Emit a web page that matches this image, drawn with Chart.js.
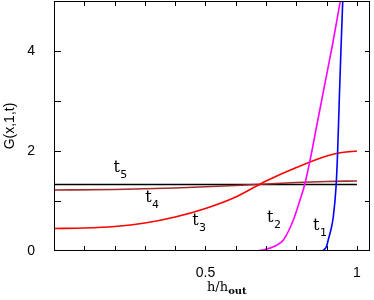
<!DOCTYPE html>
<html>
<head>
<meta charset="utf-8">
<script src="https://cdn.jsdelivr.net/npm/chart.js@4.4.0/dist/chart.umd.min.js"></script>
<style>
  html, body { margin: 0; padding: 0; background: #fff; }
  #wrap { width: 374px; height: 300px; }
</style>
</head>
<body>
<div id="wrap"><canvas id="chartG"></canvas></div>
<script>
// h/h_out samples and G(x,1,t) values
const hT1 = [0, 0.85, 0.88, 0.89, 0.90, 0.905, 0.915, 0.922, 0.931, 0.936, 0.942, 0.947, 0.953, 0.96];
const gT1 = [0, 0, 0, 0.02, 0.1, 0.22, 0.45, 0.69, 1.29, 1.96, 3.1, 4.0, 5.0, 6.2];

const hT2 = [0, 0.5, 0.65, 0.69, 0.73, 0.757, 0.79, 0.812, 0.828, 0.845, 0.867, 0.891, 0.92, 0.945, 0.96];
const gT2 = [0, 0, 0, 0.02, 0.1, 0.22, 0.62, 1.02, 1.34, 1.81, 2.5, 3.25, 4.15, 5.0, 5.5];

const hT3 = [0, 0.1, 0.2, 0.3, 0.4, 0.5, 0.6, 0.7, 0.8, 0.9, 0.95, 1.0];
const gT3 = [0.45, 0.46, 0.49, 0.56, 0.68, 0.85, 1.08, 1.40, 1.67, 1.90, 1.97, 2.0];

const hT4 = [0, 0.2, 0.4, 0.6, 0.7, 0.8, 0.9, 1.0];
const gT4 = [1.22, 1.23, 1.26, 1.31, 1.34, 1.37, 1.39, 1.40];

const hT5 = [0, 0.5, 1.0];
const gT5 = [1.33, 1.33, 1.33];

const seriesNames = ["t1", "t2", "t3", "t4", "t5"];
const seriesColors = ["#0000ff", "#ff00ff", "#ff0000", "#a52a2a", "#000000"];

// where each t_n label sits (h, G)
const labelH = [0.855, 0.703, 0.456, 0.301, 0.196];
const labelG = [0.42, 0.58, 0.52, 0.98, 1.59];

const xTickLabels = [0.5, 1];
const yTickLabels = [0, 2, 4];

function pts(hs, gs) {
  return hs.map(function (h, i) { return { x: h, y: gs[i] }; });
}

function pickLabel(list, v) {
  for (let i = 0; i < list.length; i++) {
    if (Math.abs(list[i] - v) < 1e-6) return String(list[i]);
  }
  return "";
}

const allH = [hT1, hT2, hT3, hT4, hT5];
const allG = [gT1, gT2, gT3, gT4, gT5];
// magenta sits on top of blue along the bottom
const drawOrder = [1, 0, 2, 3, 4];

const frameAndLabels = {
  id: "frameAndLabels",
  afterDraw: function (chart) {
    const ctx = chart.ctx;
    const a = chart.chartArea;
    const xs = chart.scales.x;
    const ys = chart.scales.y;
    ctx.save();
    ctx.strokeStyle = "#000";
    ctx.lineWidth = 1;
    ctx.strokeRect(Math.round(a.left) + 0.5, Math.round(a.top) + 0.5,
      Math.round(a.right - a.left) - 1, Math.round(a.bottom - a.top) - 1);

    ctx.beginPath();
    xs.ticks.forEach(function (t) {
      if (t.value <= 0.001 || t.value > 1.0001) return;
      const px = Math.round(xs.getPixelForValue(t.value)) + 0.5;
      ctx.moveTo(px, a.bottom); ctx.lineTo(px, a.bottom - 5);
      ctx.moveTo(px, a.top); ctx.lineTo(px, a.top + 5);
    });
    ys.ticks.forEach(function (t) {
      if (t.value <= 0.001 || t.value >= 4.999) return;
      const py = Math.round(ys.getPixelForValue(t.value)) + 0.5;
      ctx.moveTo(a.left, py); ctx.lineTo(a.left + 7, py);
      ctx.moveTo(a.right, py); ctx.lineTo(a.right - 5, py);
    });
    ctx.stroke();

    // t_n labels
    ctx.fillStyle = "#000";
    ctx.textBaseline = "alphabetic";
    ctx.textAlign = "left";
    seriesNames.forEach(function (name, i) {
      const px = xs.getPixelForValue(labelH[i]);
      const py = ys.getPixelForValue(labelG[i]);
      ctx.font = "16px 'DejaVu Serif'";
      ctx.fillText("t", px, py);
      const w = ctx.measureText("t").width;
      ctx.font = "11px 'DejaVu Sans'";
      ctx.fillText(name.slice(1), px + w + 0.5, py + 6);
    });

    // x title h/h_out
    ctx.font = "13px 'DejaVu Serif'";
    ctx.fillText("h/h", 207, 291);
    const w2 = ctx.measureText("h/h").width;
    ctx.font = "bold 10px 'DejaVu Serif'";
    ctx.fillText("out", 207 + w2, 294);

    // y title
    ctx.translate(10, 126);
    ctx.rotate(-Math.PI / 2);
    ctx.textAlign = "center";
    ctx.textBaseline = "middle";
    ctx.font = "14px 'Liberation Sans'";
    ctx.fillText("G(x,1,t)", 0, 0);
    ctx.restore();
  }
};

document.addEventListener("DOMContentLoaded", function () {
  const ctx = document.getElementById("chartG").getContext("2d");

  const datasets = drawOrder.map(function (i) {
    return {
      label: seriesNames[i],
      data: pts(allH[i], allG[i]),
      borderColor: seriesColors[i],
      borderWidth: 1.6,
      pointRadius: 0,
      fill: false,
      cubicInterpolationMode: "monotone",
    };
  });

  new Chart(ctx, {
    type: "line",
    data: { datasets: datasets },
    options: {
      responsive: true,
      maintainAspectRatio: false,
      animation: false,
      layout: { padding: { left: 0, top: 1, right: 4, bottom: 0 } },
      plugins: {
        legend: { display: false },
        tooltip: { enabled: false },
      },
      scales: {
        x: {
          type: "linear",
          min: 0,
          max: 1.043,
          grid: { display: false },
          border: { display: false },
          ticks: {
            stepSize: 0.1,
            includeBounds: false,
            padding: 6,
            maxRotation: 0,
            autoSkip: false,
            color: "#000",
            font: { family: "Liberation Sans", size: 14 },
            callback: function (v) { return pickLabel(xTickLabels, v); },
          },
          afterFit: function (s) {
            s.height = 49;
            s.paddingLeft = 0;
            s.paddingRight = 0;
          },
        },
        y: {
          min: 0,
          max: 5,
          grid: { display: false },
          border: { display: false },
          ticks: {
            stepSize: 1,
            padding: 11,
            color: "#000",
            font: { family: "Liberation Sans", size: 14 },
            callback: function (v) { return pickLabel(yTickLabels, v); },
          },
          afterFit: function (s) {
            s.width = 54;
            s.paddingTop = 0;
            s.paddingBottom = 0;
          },
        },
      },
    },
    plugins: [frameAndLabels],
  });
});
</script>
</body>
</html>
